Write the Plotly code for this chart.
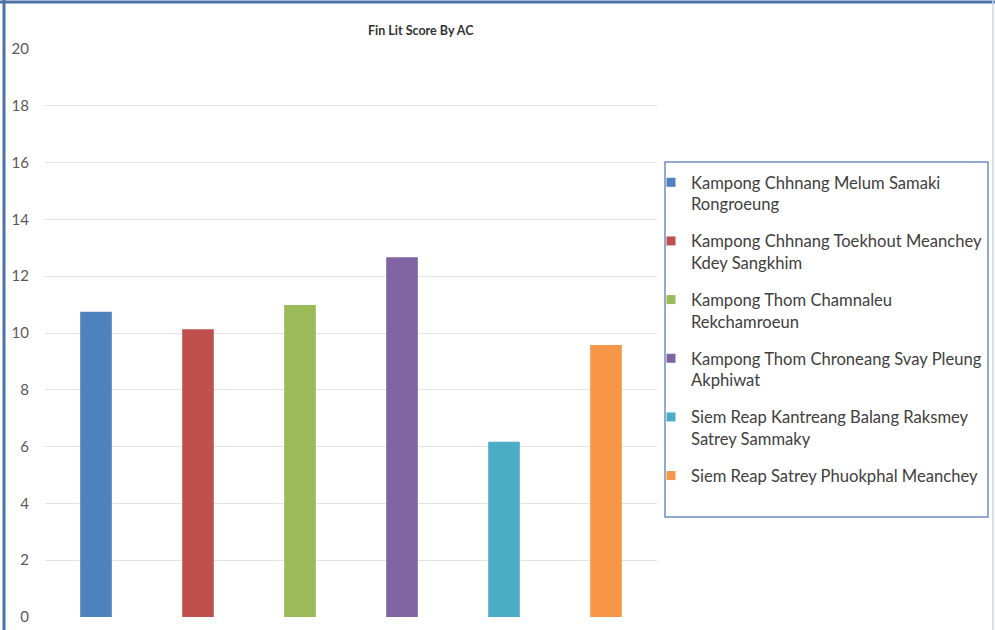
import plotly.graph_objects as go

# Fin Lit scores per agricultural cooperative (AC)
categories = [
    "Kampong Chhnang Melum Samaki<br>Rongroeung",
    "Kampong Chhnang Toekhout Meanchey<br>Kdey Sangkhim",
    "Kampong Thom Chamnaleu<br>Rekchamroeun",
    "Kampong Thom Chroneang Svay Pleung<br>Akphiwat",
    "Siem Reap Kantreang Balang Raksmey<br>Satrey Sammaky",
    "Siem Reap Satrey Phuokphal Meanchey",
]
scores = [10.75, 10.13, 10.99, 12.67, 6.17, 9.58]
colors = ["#4f81bd", "#c0504d", "#9bbb59", "#8064a2", "#4bacc6", "#f79646"]
y_ticks = [0, 2, 4, 6, 8, 10, 12, 14, 16, 18, 20]

W, H = 995, 630
L, R, T, B = 45, 338, 49, 13
PW, PH = W - L - R, H - T - B


def px_x(px):
    return (px - L) / PW


def px_y(py):
    return (H - B - py) / PH


fig = go.Figure()

for i, (name, val, col) in enumerate(zip(categories, scores, colors)):
    fig.add_trace(go.Bar(
        x=[i], y=[val], width=0.31,
        marker=dict(color=col, line=dict(width=0)),
        name=name, showlegend=False,
    ))
    # legend entry with a small square swatch
    fig.add_trace(go.Scatter(
        x=[None], y=[None], mode="markers",
        marker=dict(symbol="square", size=9, color=col),
        name=name, legendgroup=f"g{i}", showlegend=True,
    ))

frame = "#4d72aa"

fig.update_layout(
    width=W, height=H,
    margin=dict(l=L, r=R, t=T, b=B, autoexpand=False),
    paper_bgcolor="white", plot_bgcolor="white",
    barmode="overlay",
    font=dict(family="Lato, Open Sans, sans-serif", color="#404040"),
    showlegend=True,
    legend=dict(
        x=px_x(651), y=px_y(165), xanchor="left", yanchor="top",
        bgcolor="rgba(0,0,0,0)", borderwidth=0,
        font=dict(size=16.6, color="#404040"),
        traceorder="grouped", tracegroupgap=12.5, valign="top",
        itemwidth=30,
    ),
    xaxis=dict(
        range=[-0.5, 5.5], showticklabels=False, showgrid=False,
        zeroline=False, showline=False, ticks="", automargin=False,
    ),
    yaxis=dict(
        range=[0, 20], tickvals=y_ticks, ticktext=[str(v) for v in y_ticks],
        showgrid=True, gridcolor="#e3e3e3", gridwidth=1,
        zeroline=False, showline=False, ticks="", automargin=False,
        tickfont=dict(size=15, color="#595959"),
        ticklabelstandoff=15,
    ),
    annotations=[dict(
        text="<b>Fin Lit Score By AC</b>", x=px_x(421), y=px_y(30),
        xref="paper", yref="paper", showarrow=False,
        xanchor="center", yanchor="middle",
        font=dict(size=12.5, color="#333333"),
    )],
    shapes=[
        # legend frame
        dict(type="rect", xref="paper", yref="paper",
             x0=px_x(665), x1=px_x(988), y0=px_y(517), y1=px_y(162),
             line=dict(color="#6f8fc2", width=1.5), fillcolor="rgba(0,0,0,0)"),
        # outer frame: top and left edges, faint right edge
        dict(type="line", xref="paper", yref="paper",
             x0=px_x(0), x1=px_x(995), y0=px_y(2), y1=px_y(2),
             line=dict(color=frame, width=3)),
        dict(type="line", xref="paper", yref="paper",
             x0=px_x(4), x1=px_x(4), y0=px_y(0), y1=px_y(630),
             line=dict(color=frame, width=3)),
        dict(type="line", xref="paper", yref="paper",
             x0=px_x(993), x1=px_x(993), y0=px_y(0), y1=px_y(630),
             line=dict(color="#c9d4e6", width=1.5)),
    ],
)

fig.write_html("out.html")
